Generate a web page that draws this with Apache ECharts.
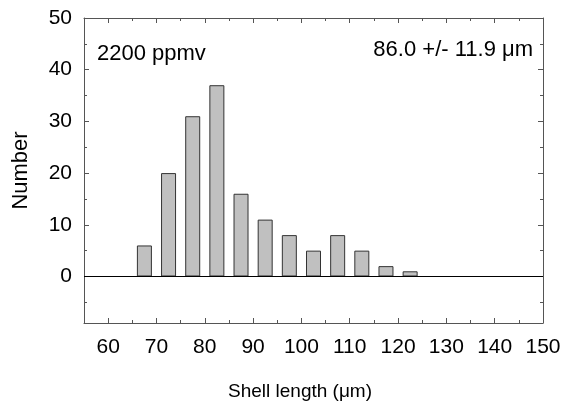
<!DOCTYPE html>
<html><head><meta charset="utf-8">
<script src="https://cdn.jsdelivr.net/npm/echarts@6/dist/echarts.min.js"></script>
<style>html,body{margin:0;padding:0;background:#fff}#c{width:563px;height:403px}</style>
</head><body><div id="c"></div>
<script>
const binCenters = [67.5, 72.5, 77.5, 82.5, 87.5, 92.5, 97.5, 102.5, 107.5, 112.5, 117.5, 122.5];
const counts = [6, 20, 31, 37, 16, 11, 8, 5, 8, 5, 2, 1];
const xMajorTicks = [60, 70, 80, 90, 100, 110, 120, 130, 140, 150];
const xMinorTicks = [65, 75, 85, 95, 105, 115, 125, 135, 145];
const yMajorTicks = [0, 10, 20, 30, 40, 50];
const yMinorTicks = [-5, 5, 15, 25, 35, 45];
const xTitle = 'Shell length (\u03bcm)';
const yTitle = 'Number';
const noteLeft = '2200 ppmv';
const noteRight = '86.0 +/- 11.9 \u03bcm';

const FONT = "'Liberation Sans', Arial, sans-serif";
const AX = '#555';
const X_MIN = 55, X_MAX = 150, Y_MIN = -9, Y_MAX = 50;

function mkAxis(kind, position, ticks, len, showLine, labels, extra) {
  const a = {
    type: 'value', position: position,
    min: kind === 'x' ? X_MIN : Y_MIN,
    max: kind === 'x' ? X_MAX : Y_MAX,
    axisLine: { show: showLine, onZero: false, lineStyle: { color: AX, width: 1 } },
    axisTick: { show: true, inside: true, length: len, customValues: ticks, lineStyle: { color: AX, width: 1 } },
    axisLabel: labels ? Object.assign({ customValues: ticks, color: '#000', fontFamily: FONT, fontSize: 21 }, labels) : { show: false },
    splitLine: { show: false }
  };
  return Object.assign(a, extra || {});
}

const chart = echarts.init(document.getElementById('c'), null, { renderer: 'canvas' });
chart.setOption({
  animation: false,
  backgroundColor: '#fff',
  grid: { left: 84, right: 20, top: 18, bottom: 80, containLabel: false, outerBoundsMode: 'none' },
  xAxis: [
    mkAxis('x', 'bottom', xMajorTicks, 5, true, { margin: 14 }, {
      name: xTitle, nameLocation: 'middle', nameGap: 59,
      nameTextStyle: { fontFamily: FONT, fontSize: 19, color: '#000', padding: [0, 27, 0, 0] }
    }),
    mkAxis('x', 'bottom', xMinorTicks, 3, false, null),
    mkAxis('x', 'top', xMajorTicks, 5, true, null),
    mkAxis('x', 'top', xMinorTicks, 3, false, null)
  ],
  yAxis: [
    mkAxis('y', 'left', yMajorTicks, 5, true, { margin: 12 }, {
      name: yTitle, nameLocation: 'middle', nameGap: 52,
      nameTextStyle: { fontFamily: FONT, fontSize: 22, color: '#000' }
    }),
    mkAxis('y', 'left', yMinorTicks, 3, false, null),
    mkAxis('y', 'right', yMajorTicks, 5, true, null),
    mkAxis('y', 'right', yMinorTicks, 3, false, null)
  ],
  series: [{
    type: 'bar',
    xAxisIndex: 0, yAxisIndex: 0,
    barWidth: 15,
    data: binCenters.map((x, i) => [x, counts[i]]),
    itemStyle: { color: '#c0c0c0', borderColor: '#333', borderWidth: 1 },
    markLine: {
      silent: true, symbol: 'none', label: { show: false },
      lineStyle: { color: '#000', width: 1, type: 'solid' },
      data: [{ yAxis: 0 }]
    }
  }],
  graphic: [
    { type: 'text', x: 97, y: 54, style: { text: noteLeft, font: '22px ' + FONT, fill: '#000', align: 'left', verticalAlign: 'middle' } },
    { type: 'text', x: 533, y: 50, style: { text: noteRight, font: '22px ' + FONT, fill: '#000', align: 'right', verticalAlign: 'middle' } }
  ]
});
</script>
</body></html>
